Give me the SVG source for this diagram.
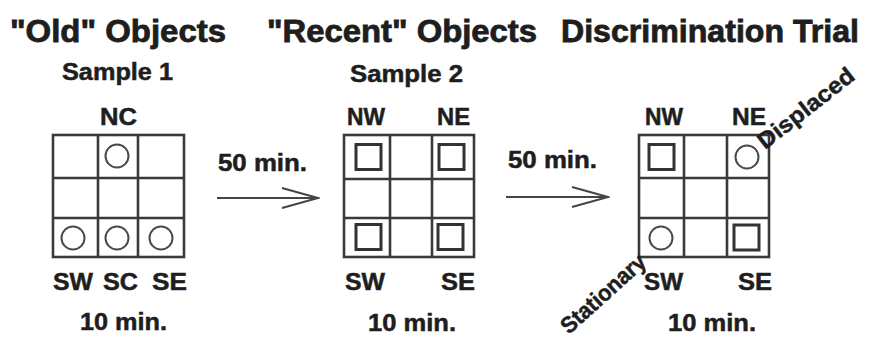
<svg xmlns="http://www.w3.org/2000/svg" width="872" height="342" viewBox="0 0 872 342">
<style>
text{font-family:"Liberation Sans",Arial,sans-serif;font-weight:bold;fill:#1e1e1e;stroke:#1e1e1e;stroke-width:0.5}
.title{font-size:31px;stroke-width:0.8}
.lbl{font-size:23px}
.grid{fill:none;stroke:#3a3a3a;stroke-width:2.6}
.circ{fill:#fff;stroke:#4a4a4a;stroke-width:2}
.sq{fill:#fff;stroke:#333;stroke-width:3}
.arrow{fill:none;stroke:#444;stroke-width:2}
</style>
<defs>
<marker id="chev" markerUnits="userSpaceOnUse" viewBox="-40 -12 42 24" markerWidth="42" markerHeight="24" refX="0" refY="0" orient="auto">
<path d="M-36,-10 L0,0 L-36,10" fill="none" stroke="#444" stroke-width="2"/>
</marker>
</defs>
<rect width="872" height="342" fill="#fff"/>

<g id="titles">
<text class="title" x="10" y="42" textLength="216" lengthAdjust="spacingAndGlyphs">"Old" Objects</text>
<text class="title" x="267" y="42" textLength="270" lengthAdjust="spacingAndGlyphs">"Recent" Objects</text>
<text class="title" x="561" y="42" textLength="298" lengthAdjust="spacingAndGlyphs">Discrimination Trial</text>
</g>

<g id="sample1">
<text class="lbl" x="62" y="80" textLength="111" lengthAdjust="spacingAndGlyphs">Sample 1</text>
<text class="lbl" x="100" y="125" textLength="37" lengthAdjust="spacingAndGlyphs">NC</text>
<rect class="grid" x="53" y="135" width="131" height="122"/>
<path class="grid" d="M98,135V257M138,135V257M53,178H184M53,218H184"/>
<circle class="circ" cx="117" cy="156" r="11.5"/>
<circle class="circ" cx="73" cy="238" r="11.5"/>
<circle class="circ" cx="117" cy="238" r="11.5"/>
<circle class="circ" cx="161" cy="238" r="11.5"/>
<text class="lbl" x="53" y="290" textLength="40" lengthAdjust="spacingAndGlyphs">SW</text>
<text class="lbl" x="103" y="290" textLength="35" lengthAdjust="spacingAndGlyphs">SC</text>
<text class="lbl" x="152" y="290" textLength="35" lengthAdjust="spacingAndGlyphs">SE</text>
<text class="lbl" x="80" y="330" textLength="87" lengthAdjust="spacingAndGlyphs">10 min.</text>
</g>

<g id="sample2">
<text class="lbl" x="350" y="82" textLength="113" lengthAdjust="spacingAndGlyphs">Sample 2</text>
<text class="lbl" x="347" y="125" textLength="38" lengthAdjust="spacingAndGlyphs">NW</text>
<text class="lbl" x="437" y="125" textLength="33" lengthAdjust="spacingAndGlyphs">NE</text>
<rect class="grid" x="344" y="135" width="130" height="122"/>
<path class="grid" d="M390,135V257M432,135V257M344,179H474M344,218H474"/>
<rect class="sq" x="356" y="144.5" width="25" height="25"/>
<rect class="sq" x="439" y="144.5" width="25" height="25"/>
<rect class="sq" x="356" y="224.5" width="25" height="25"/>
<rect class="sq" x="438" y="224.5" width="25" height="25"/>
<text class="lbl" x="345" y="290" textLength="40" lengthAdjust="spacingAndGlyphs">SW</text>
<text class="lbl" x="441" y="290" textLength="34" lengthAdjust="spacingAndGlyphs">SE</text>
<text class="lbl" x="368" y="331" textLength="88" lengthAdjust="spacingAndGlyphs">10 min.</text>
</g>

<g id="trial">
<text class="lbl" x="645" y="125" textLength="38" lengthAdjust="spacingAndGlyphs">NW</text>
<text class="lbl" x="732" y="125" textLength="34" lengthAdjust="spacingAndGlyphs">NE</text>
<rect class="grid" x="639" y="135" width="130" height="122"/>
<path class="grid" d="M684,135V257M727,135V257M639,178H769M639,218H769"/>
<rect class="sq" x="649" y="144.5" width="25" height="25"/>
<circle class="circ" cx="747" cy="157" r="11.5"/>
<circle class="circ" cx="661" cy="238" r="11.5"/>
<rect class="sq" x="734" y="225" width="25" height="25"/>
<text class="lbl" x="644" y="290" textLength="39" lengthAdjust="spacingAndGlyphs">SW</text>
<text class="lbl" x="738" y="290" textLength="34" lengthAdjust="spacingAndGlyphs">SE</text>
<text class="lbl" x="668" y="331" textLength="88" lengthAdjust="spacingAndGlyphs">10 min.</text>
<text class="lbl" transform="translate(569,335) rotate(-42)" textLength="106" lengthAdjust="spacingAndGlyphs">Stationary</text>
<text class="lbl" transform="translate(765,150) rotate(-38)" textLength="116" lengthAdjust="spacingAndGlyphs">Displaced</text>
</g>

<g id="connectors">
<text class="lbl" x="218" y="171" textLength="89" lengthAdjust="spacingAndGlyphs">50 min.</text>
<line class="arrow" x1="217" y1="198" x2="318" y2="198" marker-end="url(#chev)"/>
<text class="lbl" x="508" y="168" textLength="89" lengthAdjust="spacingAndGlyphs">50 min.</text>
<line class="arrow" x1="506" y1="197" x2="608" y2="197" marker-end="url(#chev)"/>
</g>
</svg>
